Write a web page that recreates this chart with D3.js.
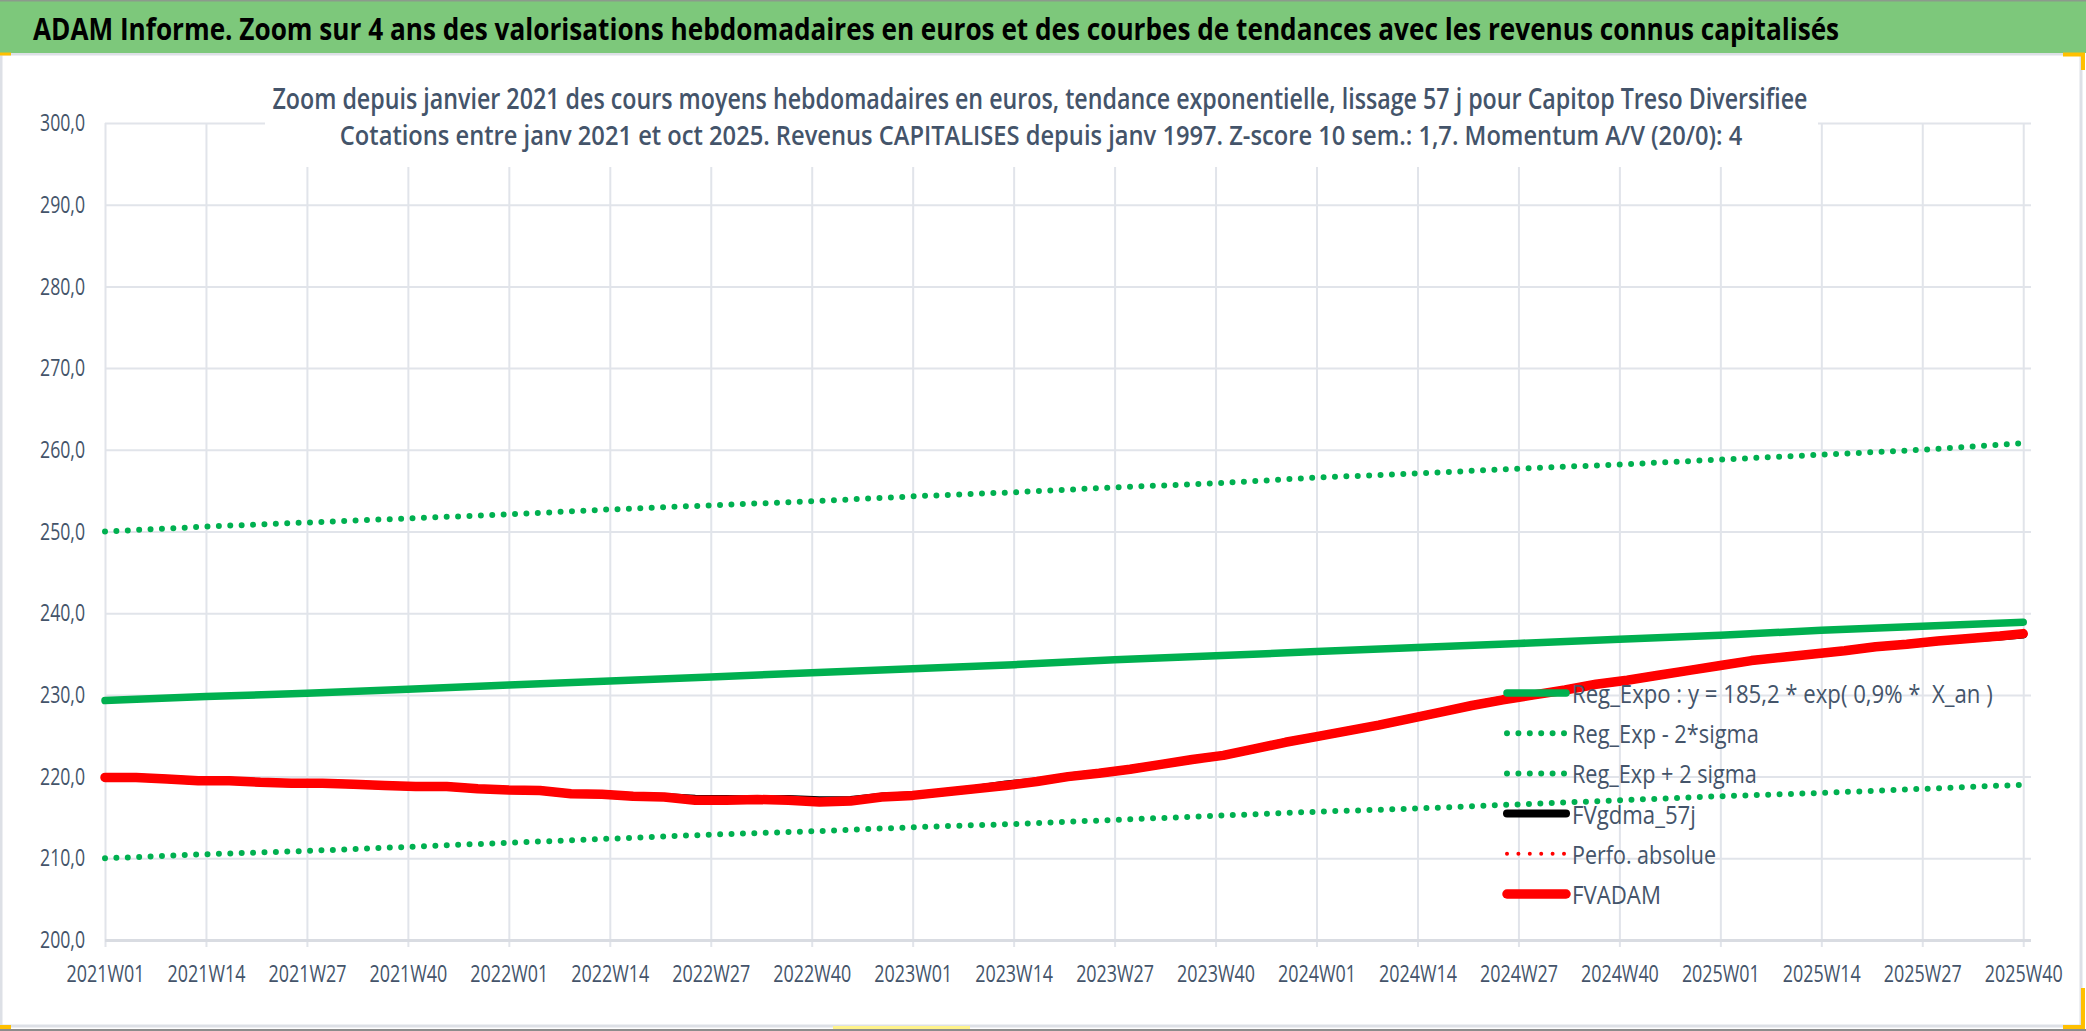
<!DOCTYPE html>
<html>
<head>
<meta charset="utf-8">
<script src="https://cdn.jsdelivr.net/npm/d3@7"></script>
<style>
  body { margin: 0; background: #fff; }
  svg { display: block; }
  text { white-space: pre; }
</style>
</head>
<body>
<div id="chart"></div>
<script>
// tick labels of the category axis (one every 13 weeks)
const tickLabels = ["2021W01", "2021W14", "2021W27", "2021W40", "2022W01", "2022W14", "2022W27", "2022W40",
  "2023W01", "2023W14", "2023W27", "2023W40", "2024W01", "2024W14", "2024W27", "2024W40",
  "2025W01", "2025W14", "2025W27", "2025W40"];
const yTicks = [200, 210, 220, 230, 240, 250, 260, 270, 280, 290, 300];

// trend curves, read at each tick label
const regExpo = [229.3, 229.8, 230.2, 230.7, 231.2, 231.7, 232.2, 232.7, 233.2, 233.7,
  234.3, 234.8, 235.3, 235.8, 236.3, 236.8, 237.3, 237.9, 238.4, 238.9];
const regExpMinus = [210.0, 210.5, 210.9, 211.4, 211.9, 212.4, 212.9, 213.3, 213.8, 214.2,
  214.7, 215.2, 215.7, 216.1, 216.6, 217.1, 217.6, 218.0, 218.5, 219.0];
const regExpPlus = [250.0, 250.6, 251.1, 251.6, 252.1, 252.7, 253.2, 253.7, 254.3, 254.8,
  255.4, 255.9, 256.6, 257.1, 257.7, 258.2, 258.8, 259.4, 260.0, 260.8];

// weekly valuations, read every 4 weeks
const fvadam = [
  ["2021W01", 219.9], ["2021W05", 219.9], ["2021W09", 219.7], ["2021W13", 219.5], ["2021W17", 219.5],
  ["2021W21", 219.3], ["2021W25", 219.2], ["2021W29", 219.2], ["2021W33", 219.05], ["2021W37", 218.9],
  ["2021W41", 218.8], ["2021W45", 218.8], ["2021W49", 218.5], ["2022W01", 218.35], ["2022W05", 218.3],
  ["2022W09", 217.9], ["2022W13", 217.85], ["2022W17", 217.6], ["2022W21", 217.5], ["2022W25", 217.1],
  ["2022W29", 217.1], ["2022W33", 217.2], ["2022W37", 217.1], ["2022W41", 216.9], ["2022W45", 217.0],
  ["2022W49", 217.5], ["2023W01", 217.7], ["2023W05", 218.1], ["2023W09", 218.5], ["2023W13", 218.9],
  ["2023W17", 219.4], ["2023W21", 220.0], ["2023W25", 220.4], ["2023W29", 220.9], ["2023W33", 221.5],
  ["2023W37", 222.1], ["2023W41", 222.6], ["2023W45", 223.4], ["2023W49", 224.2], ["2024W01", 224.9],
  ["2024W05", 225.6], ["2024W09", 226.3], ["2024W13", 227.1], ["2024W17", 227.9], ["2024W21", 228.7],
  ["2024W25", 229.4], ["2024W29", 230.0], ["2024W33", 230.6], ["2024W37", 231.3], ["2024W41", 231.8],
  ["2024W45", 232.4], ["2024W49", 233.0], ["2025W01", 233.6], ["2025W05", 234.2], ["2025W09", 234.6],
  ["2025W13", 235.0], ["2025W17", 235.4], ["2025W21", 235.9], ["2025W25", 236.2], ["2025W29", 236.6],
  ["2025W33", 236.9], ["2025W37", 237.2], ["2025W40", 237.5]
];
const fvgdma = [
  ["2021W01", 219.9], ["2021W05", 219.9], ["2021W09", 219.7], ["2021W13", 219.5], ["2021W17", 219.5],
  ["2021W21", 219.3], ["2021W25", 219.2], ["2021W29", 219.2], ["2021W33", 219.05], ["2021W37", 218.9],
  ["2021W41", 218.8], ["2021W45", 218.8], ["2021W49", 218.5], ["2022W01", 218.35], ["2022W05", 218.3],
  ["2022W09", 217.9], ["2022W13", 217.85], ["2022W17", 217.6], ["2022W21", 217.5], ["2022W25", 217.3],
  ["2022W29", 217.25], ["2022W33", 217.2], ["2022W37", 217.25], ["2022W41", 217.1], ["2022W45", 217.15],
  ["2022W49", 217.55], ["2023W01", 217.7], ["2023W05", 218.1], ["2023W09", 218.5], ["2023W13", 219.05],
  ["2023W17", 219.4], ["2023W21", 220.0], ["2023W25", 220.4], ["2023W29", 220.9], ["2023W33", 221.5],
  ["2023W37", 222.1], ["2023W41", 222.6], ["2023W45", 223.4], ["2023W49", 224.2], ["2024W01", 224.9],
  ["2024W05", 225.6], ["2024W09", 226.3], ["2024W13", 227.1], ["2024W17", 227.9], ["2024W21", 228.7],
  ["2024W25", 229.4], ["2024W29", 230.0], ["2024W33", 230.6], ["2024W37", 231.3], ["2024W41", 231.8],
  ["2024W45", 232.4], ["2024W49", 233.0], ["2025W01", 233.6], ["2025W05", 234.2], ["2025W09", 234.6],
  ["2025W13", 235.0], ["2025W17", 235.4], ["2025W21", 235.9], ["2025W25", 236.2], ["2025W29", 236.6],
  ["2025W33", 236.9], ["2025W37", 237.15], ["2025W40", 237.4]
];

const legendNames = ["Reg_Expo : y = 185,2 * exp( 0,9% *  X_an )", "Reg_Exp - 2*sigma", "Reg_Exp + 2 sigma",
  "FVgdma_57j", "Perfo. absolue", "FVADAM"];

const mainTitle = "ADAM Informe. Zoom sur 4 ans des valorisations hebdomadaires en euros et des courbes de tendances avec les revenus connus capitalisés";
const subTitle1 = "Zoom depuis janvier 2021 des cours moyens hebdomadaires en euros, tendance exponentielle, lissage 57 j pour Capitop Treso Diversifiee";
const subTitle2 = "Cotations entre janv 2021 et oct 2025. Revenus CAPITALISES depuis janv 1997. Z-score 10 sem.: 1,7. Momentum A/V (20/0): 4";

const width = 2086;
const height = 1031;
const plot = {left: 105, right: 2031, top: 123, bottom: 940};
const font = "'Open Sans', Lato, sans-serif";
const textColor = "#44546A";
const gridColor = "#E1E4EA";
const green = "#00B050";

// all weeks of the category axis
const weeks = [];
for (let yr = 2021; yr <= 2025; yr++) {
  for (let w = 1; w <= 52; w++) {
    if (yr === 2025 && w > 41) break;
    weeks.push(yr + "W" + String(w).padStart(2, "0"));
  }
}

// narrow a text horizontally (about its anchor) so it spans w pixels, like the squeezed Calibri of the original
function squeeze(sel, w) {
  sel.each(function () {
    const n = this.getComputedTextLength();
    const k = w / n;
    const x0 = +(this.getAttribute("x") || 0);
    d3.select(this).attr("transform", `translate(${x0 * (1 - k)},0) scale(${k},1)`);
  });
}
const fmt = d => d.toFixed(1).replace(".", ",");

const svg = d3.select("#chart")
  .append("svg")
  .attr("width", width)
  .attr("height", height)
  .attr("font-family", font);

const x = d3.scalePoint()
  .domain(weeks)
  .range([plot.left, plot.right]);

const y = d3.scaleLinear()
  .domain([200, 300])
  .range([plot.bottom, plot.top]);

// frame and header
svg.append("rect").attr("x", 0).attr("y", 0).attr("width", width).attr("height", height).attr("fill", "#fff");
svg.append("rect").attr("x", 1).attr("y", 54).attr("width", 2080).attr("height", 972)
  .attr("fill", "#fff").attr("stroke", "#DDE0E6").attr("stroke-width", 3);
svg.append("rect").attr("x", 0).attr("y", 0).attr("width", width).attr("height", 53).attr("fill", "#7DC87B");
svg.append("line").attr("x1", 0).attr("x2", width).attr("y1", 0.5).attr("y2", 0.5).attr("stroke", "#8C9A8C").attr("stroke-width", 2);
svg.append("line").attr("x1", 0).attr("x2", width).attr("y1", 1030).attr("y2", 1030).attr("stroke", "#8C8C8C").attr("stroke-width", 2);

// selection handles
svg.append("path").attr("d", "M2063,54.5 H2083 V70").attr("fill", "none").attr("stroke", "#FFC000").attr("stroke-width", 4);
svg.append("path").attr("d", "M2083,988 V1027 H2063").attr("fill", "none").attr("stroke", "#FFC000").attr("stroke-width", 4);
svg.append("path").attr("d", "M0,54 H11").attr("stroke", "#FFC000").attr("stroke-width", 3);
svg.append("path").attr("d", "M0,1027 H11").attr("stroke", "#FFC000").attr("stroke-width", 4);
svg.append("path").attr("d", "M833,1027.5 H970").attr("stroke", "#FFF38A").attr("stroke-width", 3);

svg.append("text")
  .attr("x", 33).attr("y", 40)
  .attr("font-size", 31).attr("font-weight", "bold").attr("fill", "#000")
  .text(mainTitle)
  .call(squeeze, 1807);

// vertical grid (runs a little below the axis as tick marks)
svg.append("g")
  .attr("transform", `translate(0,${plot.bottom + 7})`)
  .call(d3.axisBottom(x).tickValues(tickLabels).tickSizeInner(-(plot.bottom + 7 - plot.top)).tickSizeOuter(0).tickFormat(""))
  .call(g => g.select(".domain").remove())
  .call(g => g.selectAll("line").attr("stroke", gridColor).attr("stroke-width", 2));

// horizontal grid and y labels
svg.append("g")
  .attr("transform", `translate(${plot.left},0)`)
  .call(d3.axisLeft(y).tickValues(yTicks).tickSize(-(plot.right - plot.left)).tickPadding(20).tickFormat(fmt))
  .call(g => g.select(".domain").remove())
  .call(g => g.selectAll("line").attr("stroke", d => d === 200 ? "#D9DCE2" : gridColor).attr("stroke-width", d => d === 200 ? 3 : 2))
  .call(g => g.selectAll("text").attr("font-family", font).attr("font-size", 24).attr("fill", textColor).call(squeeze, 45));

// x labels
svg.append("g")
  .attr("transform", `translate(0,${plot.bottom})`)
  .call(d3.axisBottom(x).tickValues(tickLabels).tickSize(0).tickPadding(25))
  .call(g => g.select(".domain").remove())
  .call(g => g.selectAll("text").attr("font-family", font).attr("font-size", 24).attr("fill", textColor).call(squeeze, 78));

// chart title box hides the grid behind it
svg.append("rect").attr("x", 265).attr("y", 58).attr("width", 1553).attr("height", 109).attr("fill", "#fff");
svg.append("text")
  .attr("x", 1040).attr("y", 109).attr("text-anchor", "middle")
  .attr("font-size", 28).attr("font-weight", 600).attr("fill", textColor)
  .text(subTitle1)
  .call(squeeze, 1536);
svg.append("text")
  .attr("x", 1041).attr("y", 145).attr("text-anchor", "middle")
  .attr("font-size", 27).attr("font-weight", 600).attr("fill", textColor)
  .text(subTitle2)
  .call(squeeze, 1403);

const line = d3.line()
  .x(d => x(d[0]))
  .y(d => y(d[1]));

const styles = [
  {stroke: green, width: 7.5, dash: null},
  {stroke: green, width: 6, dash: "0 11.4"},
  {stroke: green, width: 6, dash: "0 11.4"},
  {stroke: "#000", width: 8, dash: null},
  {stroke: "#FF0000", width: 4, dash: "0 11.4"},
  {stroke: "#FF0000", width: 9.5, dash: null}
];

const series = [
  d3.zip(tickLabels, regExpo),
  d3.zip(tickLabels, regExpMinus),
  d3.zip(tickLabels, regExpPlus),
  fvgdma,
  null,
  fvadam
];

svg.append("g")
  .selectAll("path")
  .data(series.map((s, i) => ({s, st: styles[i]})).filter(d => d.s))
  .join("path")
  .attr("d", d => line(d.s))
  .attr("fill", "none")
  .attr("stroke", d => d.st.stroke)
  .attr("stroke-width", d => d.st.width)
  .attr("stroke-dasharray", d => d.st.dash)
  .attr("stroke-linecap", "round")
  .attr("stroke-linejoin", "round");

// legend
const legend = svg.append("g")
  .selectAll("g")
  .data(legendNames)
  .join("g")
  .attr("transform", (d, i) => `translate(1505,${693 + i * 40.2})`);

legend.append("line")
  .attr("x1", 2).attr("x2", 61)
  .attr("stroke", (d, i) => styles[i].stroke)
  .attr("stroke-width", (d, i) => styles[i].width)
  .attr("stroke-dasharray", (d, i) => styles[i].dash)
  .attr("stroke-linecap", "round");

const legendWidths = [421, 187, 185, 124, 144, 89];
legend.append("text")
  .attr("x", 67).attr("y", 10)
  .attr("font-size", 25).attr("fill", textColor)
  .text(d => d)
  .each(function (d, i) { d3.select(this).call(squeeze, legendWidths[i]); });
</script>
</body>
</html>
